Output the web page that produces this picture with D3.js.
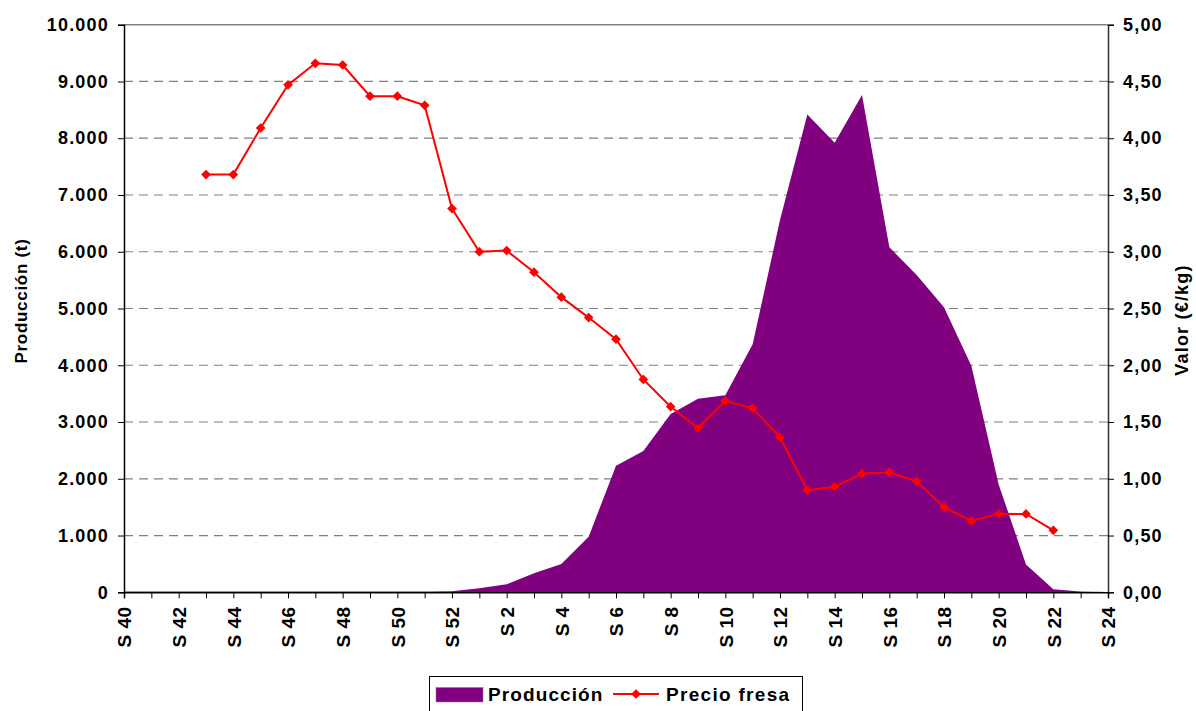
<!DOCTYPE html>
<html><head><meta charset="utf-8">
<script src="https://cdn.jsdelivr.net/npm/d3@7"></script>
<style>
html,body{margin:0;padding:0;background:#fff;}
svg{display:block;font-family:"Liberation Sans",Arial,sans-serif;font-weight:bold;}
</style></head>
<body>
<svg id="chart" width="1196" height="711"></svg>
<script>
const categories = ["S 40","S 41","S 42","S 43","S 44","S 45","S 46","S 47","S 48","S 49","S 50","S 51","S 52",
  "S 1","S 2","S 3","S 4","S 5","S 6","S 7","S 8","S 9","S 10","S 11","S 12","S 13","S 14","S 15","S 16",
  "S 17","S 18","S 19","S 20","S 21","S 22","S 23","S 24"];
const produccion = [15,15,15,15,15,15,15,15,15,15,15,15,20,
  70,140,335,500,980,2230,2490,3140,3410,3470,4370,6560,8420,7920,8760,6080,
  5590,5020,3990,1900,490,55,15,5];
const precioFresa = [null,null,null,3.68,3.68,4.09,4.47,4.66,4.645,4.37,4.37,4.29,3.38,
  3.00,3.01,2.82,2.60,2.42,2.23,1.875,1.635,1.445,1.685,1.62,1.365,0.90,0.93,1.045,1.057,
  0.978,0.75,0.628,0.692,0.69,0.546,null,null];
const xTickLabels = ["S 40","S 42","S 44","S 46","S 48","S 50","S 52","S 2","S 4","S 6","S 8","S 10",
  "S 12","S 14","S 16","S 18","S 20","S 22","S 24"];
const leftTicks = [0,1000,2000,3000,4000,5000,6000,7000,8000,9000,10000];
const rightTicks = [0,0.5,1,1.5,2,2.5,3,3.5,4,4.5,5];
const seriesNames = ["Producción","Precio fresa"];
const axisTitles = ["Producción (t)","Valor (€/kg)"];

const L = 124, R = 1108, T = 24.7, B = 592.3;
const PURPLE = "#800080", RED = "#ff0000", GRID = "#808080";
const LS = "1.2px";
const FF = '"Liberation Sans",Arial,sans-serif';

const loc = d3.formatLocale({decimal:",", thousands:".", grouping:[3], currency:["","€"]});
const fmtL = loc.format(",.0f"), fmtR = loc.format(",.2f");

const svg = d3.select("#chart");
const x = d3.scalePoint().domain(categories).range([L, R]);
const yL = d3.scaleLinear().domain([0, 10000]).range([B, T]);
const yR = d3.scaleLinear().domain([0, 5]).range([B, T]);

// gridlines
svg.append("g").selectAll("line").data(leftTicks.filter(d => d > 0 && d < 10000)).join("line")
  .attr("x1", L).attr("x2", R).attr("y1", d => yL(d)).attr("y2", d => yL(d))
  .attr("stroke", GRID).attr("stroke-width", 1.2).attr("stroke-dasharray", "9,6");

// area
const area = d3.area().x((d, i) => x(categories[i])).y0(B).y1(d => yL(d));
svg.append("path").datum(produccion).attr("d", area).attr("fill", PURPLE);

// top border
svg.append("line").attr("x1", L).attr("x2", R).attr("y1", T).attr("y2", T)
  .attr("stroke", GRID).attr("stroke-width", 1.5);

// price line
const line = d3.line().defined(d => d != null).x((d, i) => x(categories[i])).y(d => yR(d));
svg.append("path").datum(precioFresa).attr("d", line).attr("fill", "none")
  .attr("stroke", RED).attr("stroke-width", 2);
const diamond = d3.symbol().type(d3.symbolDiamond2).size(60);
svg.append("g").selectAll("path").data(precioFresa.map((v, i) => ({v, c: categories[i]})).filter(d => d.v != null))
  .join("path").attr("d", diamond)
  .attr("transform", d => `translate(${x(d.c)},${yR(d.v)})`)
  .attr("fill", RED);

// left axis
const gL = svg.append("g").attr("transform", `translate(${L},0)`)
  .call(d3.axisLeft(yL).tickValues(leftTicks).tickFormat(fmtL).tickSize(6).tickPadding(10));
gL.select(".domain").attr("stroke", "#000").attr("stroke-width", 1.5);
gL.selectAll(".tick line").attr("stroke", "#000");
gL.selectAll("text").attr("font-size", 18).attr("font-weight", "bold").attr("fill", "#000")
  .attr("font-family", FF).style("letter-spacing", LS).attr("dx", "1px");

// right axis
const gR = svg.append("g").attr("transform", `translate(${R},0)`)
  .call(d3.axisRight(yR).tickValues(rightTicks).tickFormat(fmtR).tickSize(6).tickPadding(9));
gR.select(".domain").attr("stroke", "#333").attr("stroke-width", 1.5);
gR.selectAll(".tick line").attr("stroke", "#000");
gR.selectAll("text").attr("font-size", 18).attr("font-weight", "bold").attr("fill", "#000")
  .attr("font-family", FF).style("letter-spacing", LS);

// bottom axis
const gB = svg.append("g").attr("transform", `translate(0,${B})`)
  .call(d3.axisBottom(x).tickSize(6).tickFormat(d => xTickLabels.includes(d) ? d : ""));
gB.select(".domain").attr("stroke", "#000").attr("stroke-width", 1.5);
gB.selectAll(".tick line").attr("stroke", "#000");
gB.selectAll("text").attr("font-size", 19).attr("font-weight", "bold").attr("fill", "#000")
  .attr("font-family", FF).style("letter-spacing", "0.5px")
  .attr("text-anchor", "end").attr("transform", "rotate(-90)")
  .attr("x", -14).attr("y", 0).attr("dy", "0.36em");

// axis titles
svg.append("text").attr("transform", `translate(27,301) rotate(-90)`)
  .attr("text-anchor", "middle").attr("font-size", 17).style("letter-spacing", "0.7px")
  .text(axisTitles[0]);
svg.append("text").attr("transform", `translate(1188,320) rotate(-90)`)
  .attr("text-anchor", "middle").attr("font-size", 18).style("letter-spacing", "1.2px")
  .text(axisTitles[1]);

// legend
const lg = svg.append("g");
lg.append("rect").attr("x", 429.5).attr("y", 676.5).attr("width", 373).attr("height", 40)
  .attr("fill", "#fff").attr("stroke", "#000").attr("stroke-width", 1);
lg.append("rect").attr("x", 436).attr("y", 687.5).attr("width", 47).attr("height", 14.5)
  .attr("fill", PURPLE).attr("stroke", "#a070a0").attr("stroke-width", 0.6);
lg.append("text").attr("x", 488).attr("y", 700.5).attr("font-size", 19).style("letter-spacing", "1.1px")
  .text(seriesNames[0]);
lg.append("line").attr("x1", 613).attr("x2", 659).attr("y1", 694).attr("y2", 694)
  .attr("stroke", RED).attr("stroke-width", 2);
lg.append("path").attr("d", diamond).attr("transform", "translate(636,694)").attr("fill", RED);
lg.append("text").attr("x", 666).attr("y", 700.5).attr("font-size", 19).style("letter-spacing", "1.3px")
  .text(seriesNames[1]);
</script>
</body></html>
